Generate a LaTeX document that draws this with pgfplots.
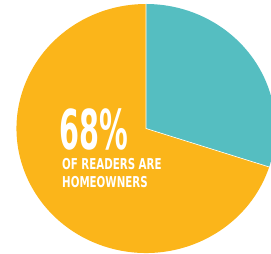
\documentclass[border=0pt]{standalone}
\usepackage{pgfplots}
\pgfplotsset{compat=1.18}
\usepackage{graphicx}
\usepackage{fontspec}
\setmainfont{DejaVu Sans Condensed}
\definecolor{pieorange}{HTML}{FBB51A}
\definecolor{pieteal}{HTML}{55BEC1}
% slice values (percent)
\def\valTeal{30}
\def\valOrange{70}
\begin{document}
\begin{tikzpicture}
\begin{axis}[width=271pt,height=254pt,scale only axis,
  xmin=0,xmax=271,ymin=0,ymax=254,hide axis,clip=true]
\pgfmathsetmacro{\aEnd}{90-360*\valTeal/100}
\pgfmathsetmacro{\ex}{146+129.5*cos(\aEnd)}
\pgfmathsetmacro{\ey}{125.5+124.5*sin(\aEnd)}
\fill[pieteal] (axis cs:146,125.5) -- (axis cs:146,250) arc[start angle=90,end angle=\aEnd,x radius=129.5pt,y radius=124.5pt] -- cycle;
\fill[pieorange] (axis cs:146,125.5) -- (axis cs:\ex,\ey) arc[start angle=\aEnd,end angle=-270,x radius=129.5pt,y radius=124.5pt] -- cycle;
\draw[white,line width=0.6pt] (axis cs:146,250) -- (axis cs:146,125.5) -- (axis cs:\ex,\ey);
\node[anchor=base west,inner sep=0pt,text=white] at (axis cs:59,104)
  {\scalebox{0.58}[1]{\fontsize{55}{55}\selectfont\bfseries 68\%}};
\node[anchor=base west,inner sep=0pt,text=white] at (axis cs:62,84)
  {\scalebox{0.76}[1]{\fontsize{15}{15}\selectfont\bfseries OF READERS ARE}};
\node[anchor=base west,inner sep=0pt,text=white] at (axis cs:62,66)
  {\scalebox{0.76}[1]{\fontsize{15}{15}\selectfont\bfseries HOMEOWNERS}};
\end{axis}
\pgfresetboundingbox
\useasboundingbox (current axis.south west) rectangle (current axis.north east);
\end{tikzpicture}
\end{document}
